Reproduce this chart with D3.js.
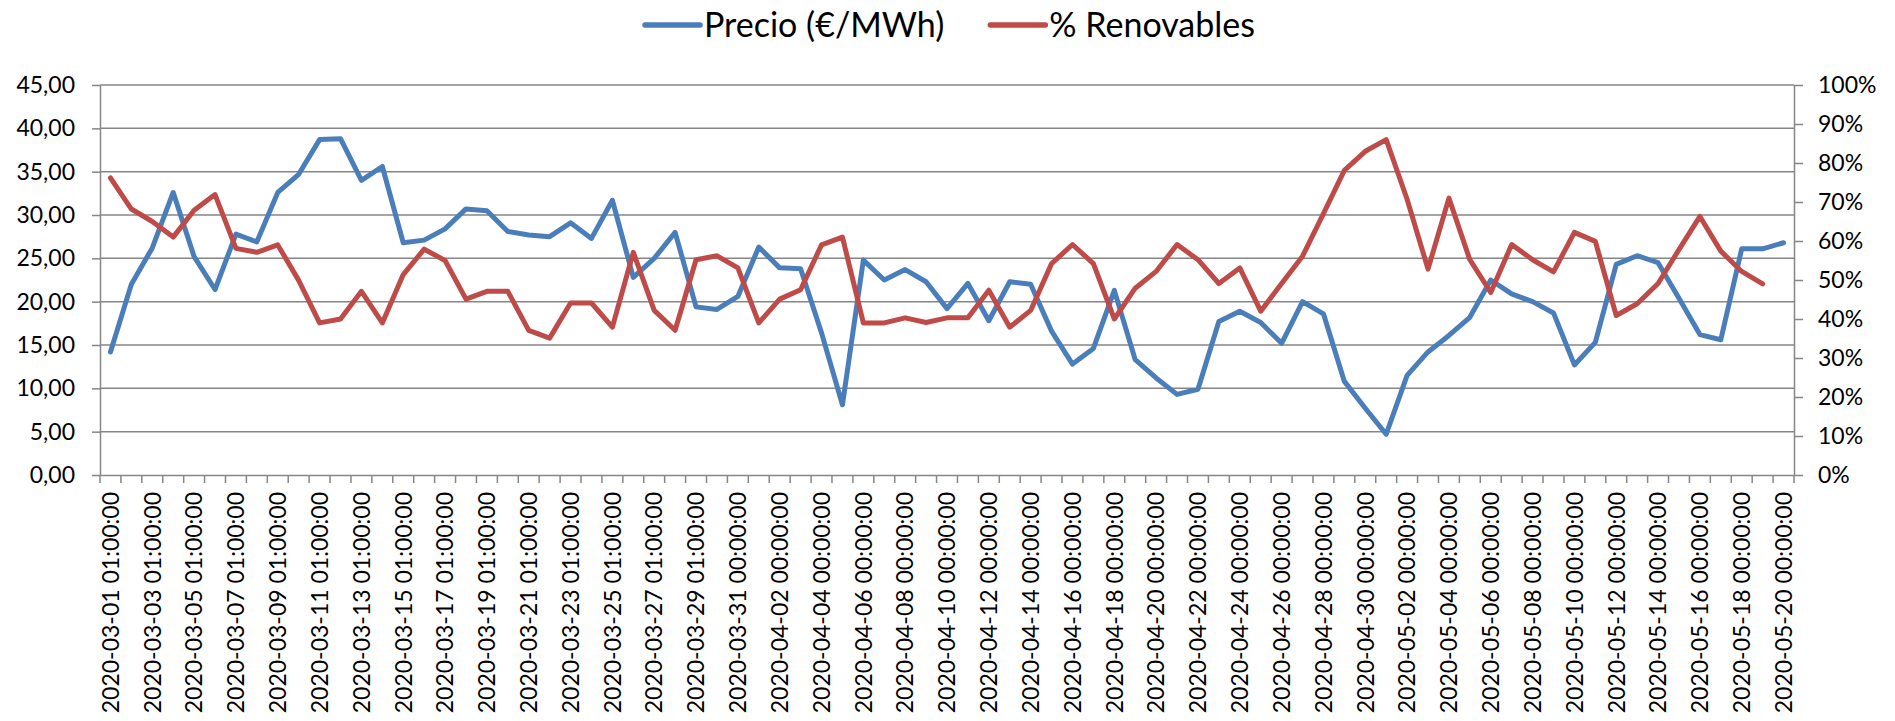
<!DOCTYPE html>
<html><head><meta charset="utf-8">
<script src="https://cdn.jsdelivr.net/npm/d3@7/dist/d3.min.js"></script>
<style>
body{margin:0;background:#fff;}
svg text{font-family:Lato,"Open Sans",sans-serif;fill:#000;}
</style>
</head><body>
<svg id="chart" width="1895" height="721"></svg>
<script>
const categories = [
"2020-03-01 01:00:00","2020-03-02 01:00:00","2020-03-03 01:00:00","2020-03-04 01:00:00","2020-03-05 01:00:00",
"2020-03-06 01:00:00","2020-03-07 01:00:00","2020-03-08 01:00:00","2020-03-09 01:00:00","2020-03-10 01:00:00",
"2020-03-11 01:00:00","2020-03-12 01:00:00","2020-03-13 01:00:00","2020-03-14 01:00:00","2020-03-15 01:00:00",
"2020-03-16 01:00:00","2020-03-17 01:00:00","2020-03-18 01:00:00","2020-03-19 01:00:00","2020-03-20 01:00:00",
"2020-03-21 01:00:00","2020-03-22 01:00:00","2020-03-23 01:00:00","2020-03-24 01:00:00","2020-03-25 01:00:00",
"2020-03-26 01:00:00","2020-03-27 01:00:00","2020-03-28 01:00:00","2020-03-29 01:00:00","2020-03-30 00:00:00",
"2020-03-31 00:00:00","2020-04-01 00:00:00","2020-04-02 00:00:00","2020-04-03 00:00:00","2020-04-04 00:00:00",
"2020-04-05 00:00:00","2020-04-06 00:00:00","2020-04-07 00:00:00","2020-04-08 00:00:00","2020-04-09 00:00:00",
"2020-04-10 00:00:00","2020-04-11 00:00:00","2020-04-12 00:00:00","2020-04-13 00:00:00","2020-04-14 00:00:00",
"2020-04-15 00:00:00","2020-04-16 00:00:00","2020-04-17 00:00:00","2020-04-18 00:00:00","2020-04-19 00:00:00",
"2020-04-20 00:00:00","2020-04-21 00:00:00","2020-04-22 00:00:00","2020-04-23 00:00:00","2020-04-24 00:00:00",
"2020-04-25 00:00:00","2020-04-26 00:00:00","2020-04-27 00:00:00","2020-04-28 00:00:00","2020-04-29 00:00:00",
"2020-04-30 00:00:00","2020-05-01 00:00:00","2020-05-02 00:00:00","2020-05-03 00:00:00","2020-05-04 00:00:00",
"2020-05-05 00:00:00","2020-05-06 00:00:00","2020-05-07 00:00:00","2020-05-08 00:00:00","2020-05-09 00:00:00",
"2020-05-10 00:00:00","2020-05-11 00:00:00","2020-05-12 00:00:00","2020-05-13 00:00:00","2020-05-14 00:00:00",
"2020-05-15 00:00:00","2020-05-16 00:00:00","2020-05-17 00:00:00","2020-05-18 00:00:00","2020-05-19 00:00:00",
"2020-05-20 00:00:00"
];

const precio = [
14.2,22.0,26.2,32.6,25.2,21.4,27.8,26.9,32.6,34.7,
38.7,38.8,34.0,35.6,26.8,27.1,28.4,30.7,30.5,28.1,
27.7,27.5,29.1,27.3,31.7,22.8,25.0,28.0,19.4,19.1,
20.6,26.3,23.9,23.8,16.4,8.1,24.8,22.5,23.7,22.3,
19.2,22.1,17.8,22.3,22.0,16.6,12.8,14.6,21.3,13.3,
11.2,9.3,9.9,17.7,18.9,17.6,15.2,20.0,18.6,10.8,
7.7,4.7,11.5,14.2,16.1,18.2,22.5,20.9,20.0,18.7,
12.7,15.3,24.3,25.3,24.5,20.4,16.2,15.6,26.1,26.1,
26.8
];

const renovables = [
76.2,68.2,65.0,61.0,67.9,71.9,58.1,57.1,59.0,49.9,
39.0,40.0,47.1,39.0,51.4,57.9,55.0,45.1,47.1,47.1,
37.1,35.1,44.1,44.1,37.9,57.1,42.2,37.1,55.2,56.2,
53.1,39.0,45.1,47.5,59.0,61.0,39.0,39.0,40.3,39.1,
40.3,40.3,47.4,37.9,42.2,54.2,59.1,54.2,40.0,47.9,
52.2,59.1,55.2,49.1,53.1,42.0,49.1,56.1,67.0,78.1,
83.0,86.0,70.7,52.8,71.0,55.2,46.8,59.1,55.2,52.1,
62.2,59.9,40.9,43.9,49.1,57.8,66.3,57.4,52.2,49.0
];

const leftTicks = [0,5,10,15,20,25,30,35,40,45];
const rightTicks = [0,10,20,30,40,50,60,70,80,90,100];
const seriesNames = ["Precio (€/MWh)", "% Renovables"];
const seriesColors = ["#4A7EBB", "#BE4B48"];

const svg = d3.select("#chart");
const L = 100, R = 1794, T = 85, B = 475;
const gridColor = "#868686";

const x = d3.scaleBand().domain(categories).range([L, R]).padding(0);
const bw = x.bandwidth();
const yL = d3.scaleLinear().domain([0, 45]).range([B, T]);
const yR = d3.scaleLinear().domain([0, 100]).range([B, T]);

// gridlines
svg.append("g").selectAll("line").data(leftTicks.filter(d => d > 0)).join("line")
  .attr("x1", L).attr("x2", R)
  .attr("y1", d => yL(d)).attr("y2", d => yL(d))
  .attr("stroke", gridColor).attr("stroke-width", 1.5);

// left axis
const fmtL = d => d.toFixed(2).replace(".", ",");
const gL = svg.append("g").attr("transform", `translate(${L},0)`)
  .call(d3.axisLeft(yL).tickValues(leftTicks).tickFormat(fmtL).tickSize(8).tickSizeOuter(0).tickPadding(17));
// right axis
const gR = svg.append("g").attr("transform", `translate(${R},0)`)
  .call(d3.axisRight(yR).tickValues(rightTicks).tickFormat(d => d + "%").tickSize(9).tickSizeOuter(0).tickPadding(15));
// bottom axis (labels every other category)
const labelCats = categories.filter((d, i) => i % 2 === 0);
const gB = svg.append("g").attr("transform", `translate(0,${B})`)
  .call(d3.axisBottom(x).tickValues(labelCats).tickSize(0).tickSizeOuter(0));

[gL, gR, gB].forEach(g => {
  g.select(".domain").attr("stroke", gridColor).attr("stroke-width", 1.5);
  g.selectAll(".tick line").attr("stroke", gridColor).attr("stroke-width", 1.5);
  g.selectAll(".tick text").attr("font-size", 23).attr("font-family", "Lato, 'Open Sans', sans-serif").attr("fill", "#000");
});

gB.selectAll(".tick text")
  .attr("transform", "rotate(-90)")
  .attr("text-anchor", "end")
  .attr("x", -17).attr("y", 0).attr("dy", "0.36em");

// category boundary tick marks
const bounds = categories.map(c => x(c)).concat([x(categories[categories.length - 1]) + bw]);
svg.append("g").selectAll("line").data(bounds).join("line")
  .attr("x1", d => d).attr("x2", d => d)
  .attr("y1", B).attr("y2", B + 8)
  .attr("stroke", gridColor).attr("stroke-width", 1.5);

// lines
const cx = c => x(c) + bw / 2;
const lineP = d3.line().x((d, i) => cx(categories[i])).y(d => yL(d));
const lineR = d3.line().x((d, i) => cx(categories[i])).y(d => yR(d));

svg.append("path").datum(precio).attr("d", lineP)
  .attr("fill", "none").attr("stroke", seriesColors[0]).attr("stroke-width", 5)
  .attr("stroke-linejoin", "round").attr("stroke-linecap", "round");
svg.append("path").datum(renovables).attr("d", lineR)
  .attr("fill", "none").attr("stroke", seriesColors[1]).attr("stroke-width", 5)
  .attr("stroke-linejoin", "round").attr("stroke-linecap", "round");

// legend
const leg = svg.append("g");
const lineLen = 55, gapText = 4, gapItem = 46, legY = 25;
let cur = 0;
seriesNames.forEach((name, i) => {
  const g = leg.append("g").attr("transform", `translate(${cur},0)`);
  g.append("line").attr("x1", 0).attr("x2", lineLen).attr("y1", legY).attr("y2", legY)
    .attr("stroke", seriesColors[i]).attr("stroke-width", 5.5).attr("stroke-linecap", "round");
  const t = g.append("text").attr("x", lineLen + gapText).attr("y", legY).attr("dy", "0.35em")
    .attr("font-size", 34).text(name);
  cur += lineLen + gapText + t.node().getComputedTextLength() + gapItem;
});
const legW = cur - gapItem;
leg.attr("transform", `translate(${950 - legW / 2},0)`);
</script>
</body></html>
